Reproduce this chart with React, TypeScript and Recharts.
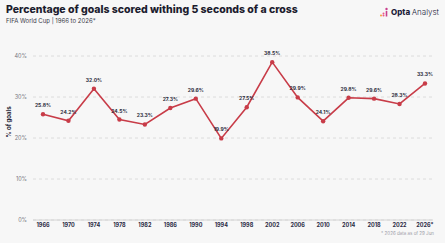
import { CartesianGrid, LabelList, Line, LineChart, XAxis, YAxis } from 'recharts';

const years = ['1966', '1970', '1974', '1978', '1982', '1986', '1990', '1994', '1998', '2002', '2006', '2010', '2014', '2018', '2022', '2026*'];
const crossShare = [25.8, 24.2, 32.0, 24.5, 23.3, 27.3, 29.6, 19.9, 27.5, 38.5, 29.9, 24.1, 29.8, 29.6, 28.3, 33.3];
const yTicks = [0, 10, 20, 30, 40];

const data = years.map((year, i) => ({ year, value: crossShare[i] }));

const font = 'Inter, "Noto Sans", sans-serif';

function Logo() {
  return (
    <div style={{ position: 'absolute', right: 6, top: 6, display: 'flex', alignItems: 'flex-end', fontFamily: font, fontSize: 8, color: '#1c1c3a' }}>
      <svg width="10" height="11" style={{ marginRight: 2 }}>
        <circle cx="2" cy="9.5" r="1" fill="#f2a23a" />
        <circle cx="4.5" cy="7.5" r="1" fill="#ee5a8a" />
        <circle cx="4.5" cy="9.5" r="1" fill="#ee5a8a" />
        <circle cx="7.5" cy="3" r="1.2" fill="#c83f8e" />
        <rect x="6.7" y="5" width="1.6" height="5.5" fill="#c83f8e" />
      </svg>
      <span style={{ fontWeight: 800 }}>Opta</span>
      <span style={{ fontWeight: 300, marginLeft: 1.5 }}>Analyst</span>
    </div>
  );
}

export default function App() {
  return (
    <div style={{ position: 'absolute', left: 0, top: 0, width: 445, height: 243, background: '#f7f7f7', overflow: 'hidden', fontFamily: font }}>
      <div style={{ position: 'absolute', left: 6, top: 3, fontSize: 10.5, fontWeight: 800, color: '#1c1c2e', whiteSpace: 'nowrap' }}>
        Percentage of goals scored withing 5 seconds of a cross
      </div>
      <div style={{ position: 'absolute', left: 6, top: 17, fontSize: 6, color: '#3a3a4a', whiteSpace: 'nowrap' }}>
        FIFA World Cup | 1966 to 2026*
      </div>
      <Logo />
      <div style={{ position: 'absolute', left: 8, top: 122, transform: 'translate(-50%, -50%) rotate(-90deg)', fontSize: 6, fontWeight: 700, color: '#2a2a3a', whiteSpace: 'nowrap' }}>
        % of goals
      </div>
      <div style={{ position: 'absolute', right: 11, top: 231, fontSize: 4.5, color: '#9a9aa6', whiteSpace: 'nowrap' }}>
        * 2026 data as of 29 Jun
      </div>
      <div style={{ position: 'absolute', left: 0, top: 0 }}>
        <LineChart width={445} height={243} data={data} margin={{ top: 56, right: 12, bottom: 13, left: 0 }}>
          <CartesianGrid vertical={false} stroke="#dcdcdc" strokeDasharray="3 3" />
          <XAxis
            dataKey="year"
            height={10}
            padding={{ left: 10, right: 8 }}
            axisLine={{ stroke: '#d4d4d4' }}
            tickLine={false}
            tickSize={0}
            tick={{ fontSize: 5.5, fontWeight: 700, fill: '#2a2a44', fontFamily: font }}
            tickMargin={3}
            interval={0}
          />
          <YAxis
            domain={[0, 40]}
            ticks={yTicks}
            width={33}
            axisLine={false}
            tickLine={false}
            tickSize={0}
            tickMargin={6}
            tickFormatter={(v: number) => `${v}%`}
            tick={{ fontSize: 5.5, fill: '#777780', fontFamily: font }}
          />
          <Line
            type="linear"
            dataKey="value"
            stroke="#c83c48"
            strokeWidth={1.6}
            dot={{ r: 2.2, fill: '#c83c48', stroke: '#c83c48', strokeWidth: 0 }}
            isAnimationActive={false}
          >
            <LabelList
              dataKey="value"
              position="top"
              offset={7}
              formatter={(v: number) => `${v.toFixed(1)}%`}
              style={{ fontSize: 5, fontWeight: 700, fill: '#2a2a3a', fontFamily: font }}
            />
          </Line>
        </LineChart>
      </div>
    </div>
  );
}
